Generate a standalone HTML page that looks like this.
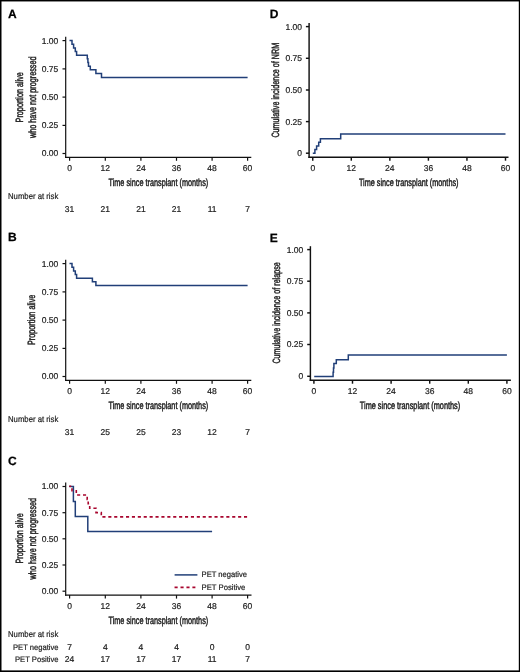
<!DOCTYPE html>
<html><head><meta charset="utf-8"><style>
html,body{margin:0;padding:0;background:#fff;}
svg{display:block;will-change:transform;}
text{font-family:"Liberation Sans",sans-serif;text-rendering:geometricPrecision;}
</style></head><body>
<svg width="520" height="672" viewBox="0 0 520 672">
<rect x="0" y="0" width="520" height="672" fill="#fff"/>
<text x="8.0" y="18.4" font-size="12" text-anchor="start" font-weight="bold" fill="#000" stroke="#000" stroke-width="0.25">A</text>
<line x1="65.7" y1="36.7" x2="65.7" y2="157.9" stroke="#111" stroke-width="1.2"/>
<line x1="65.1" y1="157.3" x2="251.3" y2="157.3" stroke="#111" stroke-width="1.2"/>
<line x1="62.5" y1="40.6" x2="65.7" y2="40.6" stroke="#111" stroke-width="1.2"/>
<text x="58.3" y="43.5" font-size="8.5" text-anchor="end" fill="#1c1c1c" stroke="#1c1c1c" stroke-width="0.2">1.00</text>
<line x1="62.5" y1="68.9" x2="65.7" y2="68.9" stroke="#111" stroke-width="1.2"/>
<text x="58.3" y="71.8" font-size="8.5" text-anchor="end" fill="#1c1c1c" stroke="#1c1c1c" stroke-width="0.2">0.75</text>
<line x1="62.5" y1="97.1" x2="65.7" y2="97.1" stroke="#111" stroke-width="1.2"/>
<text x="58.3" y="100.0" font-size="8.5" text-anchor="end" fill="#1c1c1c" stroke="#1c1c1c" stroke-width="0.2">0.50</text>
<line x1="62.5" y1="125.4" x2="65.7" y2="125.4" stroke="#111" stroke-width="1.2"/>
<text x="58.3" y="128.3" font-size="8.5" text-anchor="end" fill="#1c1c1c" stroke="#1c1c1c" stroke-width="0.2">0.25</text>
<line x1="62.5" y1="153.5" x2="65.7" y2="153.5" stroke="#111" stroke-width="1.2"/>
<text x="58.3" y="156.4" font-size="8.5" text-anchor="end" fill="#1c1c1c" stroke="#1c1c1c" stroke-width="0.2">0.00</text>
<line x1="69.6" y1="157.3" x2="69.6" y2="160.8" stroke="#111" stroke-width="1.2"/>
<text x="69.6" y="171.4" font-size="8.5" text-anchor="middle" fill="#1c1c1c" stroke="#1c1c1c" stroke-width="0.2">0</text>
<line x1="105.3" y1="157.3" x2="105.3" y2="160.8" stroke="#111" stroke-width="1.2"/>
<text x="105.3" y="171.4" font-size="8.5" text-anchor="middle" fill="#1c1c1c" stroke="#1c1c1c" stroke-width="0.2">12</text>
<line x1="140.9" y1="157.3" x2="140.9" y2="160.8" stroke="#111" stroke-width="1.2"/>
<text x="140.9" y="171.4" font-size="8.5" text-anchor="middle" fill="#1c1c1c" stroke="#1c1c1c" stroke-width="0.2">24</text>
<line x1="176.5" y1="157.3" x2="176.5" y2="160.8" stroke="#111" stroke-width="1.2"/>
<text x="176.5" y="171.4" font-size="8.5" text-anchor="middle" fill="#1c1c1c" stroke="#1c1c1c" stroke-width="0.2">36</text>
<line x1="212.1" y1="157.3" x2="212.1" y2="160.8" stroke="#111" stroke-width="1.2"/>
<text x="212.1" y="171.4" font-size="8.5" text-anchor="middle" fill="#1c1c1c" stroke="#1c1c1c" stroke-width="0.2">48</text>
<line x1="247.6" y1="157.3" x2="247.6" y2="160.8" stroke="#111" stroke-width="1.2"/>
<text x="247.6" y="171.4" font-size="8.5" text-anchor="middle" fill="#1c1c1c" stroke="#1c1c1c" stroke-width="0.2">60</text>
<text transform="translate(23.0,122.4) rotate(-90)" font-size="10.5" fill="#1c1c1c" stroke="#1c1c1c" stroke-width="0.45" textLength="50.3" lengthAdjust="spacingAndGlyphs">Proportion alive</text>
<text transform="translate(36.0,138.0) rotate(-90)" font-size="10.5" fill="#1c1c1c" stroke="#1c1c1c" stroke-width="0.45" textLength="81.5" lengthAdjust="spacingAndGlyphs">who have not progressed</text>
<text x="108.5" y="186.0" font-size="10.5" text-anchor="start" fill="#1c1c1c" stroke="#1c1c1c" stroke-width="0.45" textLength="99.7" lengthAdjust="spacingAndGlyphs">Time since transplant (months)</text>
<text x="8" y="199.4" font-size="8.5" text-anchor="start" fill="#1c1c1c" stroke="#1c1c1c" stroke-width="0.2" textLength="50.3" lengthAdjust="spacingAndGlyphs">Number at risk</text>
<text x="69.6" y="211.6" font-size="8.5" text-anchor="middle" fill="#1c1c1c" stroke="#1c1c1c" stroke-width="0.2">31</text>
<text x="105.3" y="211.6" font-size="8.5" text-anchor="middle" fill="#1c1c1c" stroke="#1c1c1c" stroke-width="0.2">21</text>
<text x="140.9" y="211.6" font-size="8.5" text-anchor="middle" fill="#1c1c1c" stroke="#1c1c1c" stroke-width="0.2">21</text>
<text x="176.5" y="211.6" font-size="8.5" text-anchor="middle" fill="#1c1c1c" stroke="#1c1c1c" stroke-width="0.2">21</text>
<text x="212.1" y="211.6" font-size="8.5" text-anchor="middle" fill="#1c1c1c" stroke="#1c1c1c" stroke-width="0.2">11</text>
<text x="247.6" y="211.6" font-size="8.5" text-anchor="middle" fill="#1c1c1c" stroke="#1c1c1c" stroke-width="0.2">7</text>
<path d="M69.5,40.6 H72.0 V44.25 H73.6 V47.9 H75.3 V51.55 H76.6 V55.2 H87.3 V58.85 H87.9 V62.5 H88.5 V66.15 H90.3 V69.8 H95.9 V73.45 H101.5 V77.5 H247.6" fill="none" stroke="#213f78" stroke-width="1.5" stroke-linejoin="miter" stroke-linecap="butt"/>
<text x="8.0" y="241.4" font-size="12" text-anchor="start" font-weight="bold" fill="#000" stroke="#000" stroke-width="0.25">B</text>
<line x1="65.7" y1="259.7" x2="65.7" y2="380.9" stroke="#111" stroke-width="1.2"/>
<line x1="65.1" y1="380.3" x2="251.3" y2="380.3" stroke="#111" stroke-width="1.2"/>
<line x1="62.5" y1="263.6" x2="65.7" y2="263.6" stroke="#111" stroke-width="1.2"/>
<text x="58.3" y="266.5" font-size="8.5" text-anchor="end" fill="#1c1c1c" stroke="#1c1c1c" stroke-width="0.2">1.00</text>
<line x1="62.5" y1="291.9" x2="65.7" y2="291.9" stroke="#111" stroke-width="1.2"/>
<text x="58.3" y="294.8" font-size="8.5" text-anchor="end" fill="#1c1c1c" stroke="#1c1c1c" stroke-width="0.2">0.75</text>
<line x1="62.5" y1="320.1" x2="65.7" y2="320.1" stroke="#111" stroke-width="1.2"/>
<text x="58.3" y="323.0" font-size="8.5" text-anchor="end" fill="#1c1c1c" stroke="#1c1c1c" stroke-width="0.2">0.50</text>
<line x1="62.5" y1="348.4" x2="65.7" y2="348.4" stroke="#111" stroke-width="1.2"/>
<text x="58.3" y="351.3" font-size="8.5" text-anchor="end" fill="#1c1c1c" stroke="#1c1c1c" stroke-width="0.2">0.25</text>
<line x1="62.5" y1="376.5" x2="65.7" y2="376.5" stroke="#111" stroke-width="1.2"/>
<text x="58.3" y="379.4" font-size="8.5" text-anchor="end" fill="#1c1c1c" stroke="#1c1c1c" stroke-width="0.2">0.00</text>
<line x1="69.6" y1="380.3" x2="69.6" y2="383.8" stroke="#111" stroke-width="1.2"/>
<text x="69.6" y="394.4" font-size="8.5" text-anchor="middle" fill="#1c1c1c" stroke="#1c1c1c" stroke-width="0.2">0</text>
<line x1="105.3" y1="380.3" x2="105.3" y2="383.8" stroke="#111" stroke-width="1.2"/>
<text x="105.3" y="394.4" font-size="8.5" text-anchor="middle" fill="#1c1c1c" stroke="#1c1c1c" stroke-width="0.2">12</text>
<line x1="140.9" y1="380.3" x2="140.9" y2="383.8" stroke="#111" stroke-width="1.2"/>
<text x="140.9" y="394.4" font-size="8.5" text-anchor="middle" fill="#1c1c1c" stroke="#1c1c1c" stroke-width="0.2">24</text>
<line x1="176.5" y1="380.3" x2="176.5" y2="383.8" stroke="#111" stroke-width="1.2"/>
<text x="176.5" y="394.4" font-size="8.5" text-anchor="middle" fill="#1c1c1c" stroke="#1c1c1c" stroke-width="0.2">36</text>
<line x1="212.1" y1="380.3" x2="212.1" y2="383.8" stroke="#111" stroke-width="1.2"/>
<text x="212.1" y="394.4" font-size="8.5" text-anchor="middle" fill="#1c1c1c" stroke="#1c1c1c" stroke-width="0.2">48</text>
<line x1="247.6" y1="380.3" x2="247.6" y2="383.8" stroke="#111" stroke-width="1.2"/>
<text x="247.6" y="394.4" font-size="8.5" text-anchor="middle" fill="#1c1c1c" stroke="#1c1c1c" stroke-width="0.2">60</text>
<text transform="translate(35.2,345.0) rotate(-90)" font-size="10.5" fill="#1c1c1c" stroke="#1c1c1c" stroke-width="0.45" textLength="50.3" lengthAdjust="spacingAndGlyphs">Proportion alive</text>
<text x="108.5" y="409.0" font-size="10.5" text-anchor="start" fill="#1c1c1c" stroke="#1c1c1c" stroke-width="0.45" textLength="99.7" lengthAdjust="spacingAndGlyphs">Time since transplant (months)</text>
<text x="8" y="422.4" font-size="8.5" text-anchor="start" fill="#1c1c1c" stroke="#1c1c1c" stroke-width="0.2" textLength="50.3" lengthAdjust="spacingAndGlyphs">Number at risk</text>
<text x="69.6" y="434.6" font-size="8.5" text-anchor="middle" fill="#1c1c1c" stroke="#1c1c1c" stroke-width="0.2">31</text>
<text x="105.3" y="434.6" font-size="8.5" text-anchor="middle" fill="#1c1c1c" stroke="#1c1c1c" stroke-width="0.2">25</text>
<text x="140.9" y="434.6" font-size="8.5" text-anchor="middle" fill="#1c1c1c" stroke="#1c1c1c" stroke-width="0.2">25</text>
<text x="176.5" y="434.6" font-size="8.5" text-anchor="middle" fill="#1c1c1c" stroke="#1c1c1c" stroke-width="0.2">23</text>
<text x="212.1" y="434.6" font-size="8.5" text-anchor="middle" fill="#1c1c1c" stroke="#1c1c1c" stroke-width="0.2">12</text>
<text x="247.6" y="434.6" font-size="8.5" text-anchor="middle" fill="#1c1c1c" stroke="#1c1c1c" stroke-width="0.2">7</text>
<path d="M69.5,263.6 H72.0 V267.25 H73.6 V270.9 H75.3 V274.55 H76.6 V278.2 H92.4 V281.85 H95.9 V285.5 H247.6" fill="none" stroke="#213f78" stroke-width="1.5" stroke-linejoin="miter" stroke-linecap="butt"/>
<text x="8.0" y="465.3" font-size="12" text-anchor="start" font-weight="bold" fill="#000" stroke="#000" stroke-width="0.25">C</text>
<line x1="65.7" y1="482.6" x2="65.7" y2="595.7" stroke="#111" stroke-width="1.2"/>
<line x1="65.1" y1="595.1" x2="251.5" y2="595.1" stroke="#111" stroke-width="1.2"/>
<line x1="62.5" y1="486.5" x2="65.7" y2="486.5" stroke="#111" stroke-width="1.2"/>
<text x="58.3" y="489.4" font-size="8.5" text-anchor="end" fill="#1c1c1c" stroke="#1c1c1c" stroke-width="0.2">1.00</text>
<line x1="62.5" y1="512.7" x2="65.7" y2="512.7" stroke="#111" stroke-width="1.2"/>
<text x="58.3" y="515.6" font-size="8.5" text-anchor="end" fill="#1c1c1c" stroke="#1c1c1c" stroke-width="0.2">0.75</text>
<line x1="62.5" y1="538.8" x2="65.7" y2="538.8" stroke="#111" stroke-width="1.2"/>
<text x="58.3" y="541.7" font-size="8.5" text-anchor="end" fill="#1c1c1c" stroke="#1c1c1c" stroke-width="0.2">0.50</text>
<line x1="62.5" y1="565.0" x2="65.7" y2="565.0" stroke="#111" stroke-width="1.2"/>
<text x="58.3" y="567.9" font-size="8.5" text-anchor="end" fill="#1c1c1c" stroke="#1c1c1c" stroke-width="0.2">0.25</text>
<line x1="62.5" y1="591.2" x2="65.7" y2="591.2" stroke="#111" stroke-width="1.2"/>
<text x="58.3" y="594.1" font-size="8.5" text-anchor="end" fill="#1c1c1c" stroke="#1c1c1c" stroke-width="0.2">0.00</text>
<line x1="69.6" y1="595.1" x2="69.6" y2="598.6" stroke="#111" stroke-width="1.2"/>
<text x="69.6" y="609.4" font-size="8.5" text-anchor="middle" fill="#1c1c1c" stroke="#1c1c1c" stroke-width="0.2">0</text>
<line x1="105.3" y1="595.1" x2="105.3" y2="598.6" stroke="#111" stroke-width="1.2"/>
<text x="105.3" y="609.4" font-size="8.5" text-anchor="middle" fill="#1c1c1c" stroke="#1c1c1c" stroke-width="0.2">12</text>
<line x1="140.9" y1="595.1" x2="140.9" y2="598.6" stroke="#111" stroke-width="1.2"/>
<text x="140.9" y="609.4" font-size="8.5" text-anchor="middle" fill="#1c1c1c" stroke="#1c1c1c" stroke-width="0.2">24</text>
<line x1="176.5" y1="595.1" x2="176.5" y2="598.6" stroke="#111" stroke-width="1.2"/>
<text x="176.5" y="609.4" font-size="8.5" text-anchor="middle" fill="#1c1c1c" stroke="#1c1c1c" stroke-width="0.2">36</text>
<line x1="212.1" y1="595.1" x2="212.1" y2="598.6" stroke="#111" stroke-width="1.2"/>
<text x="212.1" y="609.4" font-size="8.5" text-anchor="middle" fill="#1c1c1c" stroke="#1c1c1c" stroke-width="0.2">48</text>
<line x1="247.6" y1="595.1" x2="247.6" y2="598.6" stroke="#111" stroke-width="1.2"/>
<text x="247.6" y="609.4" font-size="8.5" text-anchor="middle" fill="#1c1c1c" stroke="#1c1c1c" stroke-width="0.2">60</text>
<text transform="translate(23.0,563.6) rotate(-90)" font-size="10.5" fill="#1c1c1c" stroke="#1c1c1c" stroke-width="0.45" textLength="50.3" lengthAdjust="spacingAndGlyphs">Proportion alive</text>
<text transform="translate(36.0,579.4) rotate(-90)" font-size="10.5" fill="#1c1c1c" stroke="#1c1c1c" stroke-width="0.45" textLength="81.5" lengthAdjust="spacingAndGlyphs">who have not progressed</text>
<text x="108.5" y="623.6" font-size="10.5" text-anchor="start" fill="#1c1c1c" stroke="#1c1c1c" stroke-width="0.45" textLength="99.7" lengthAdjust="spacingAndGlyphs">Time since transplant (months)</text>
<text x="8" y="636.9" font-size="8.5" text-anchor="start" fill="#1c1c1c" stroke="#1c1c1c" stroke-width="0.2" textLength="50.3" lengthAdjust="spacingAndGlyphs">Number at risk</text>
<text x="13.0" y="649.5" font-size="8" text-anchor="start" fill="#1c1c1c" stroke="#1c1c1c" stroke-width="0.2" textLength="45.5" lengthAdjust="spacingAndGlyphs">PET negative</text>
<text x="15.0" y="661.9" font-size="8" text-anchor="start" fill="#1c1c1c" stroke="#1c1c1c" stroke-width="0.2" textLength="43.5" lengthAdjust="spacingAndGlyphs">PET Positive</text>
<text x="69.6" y="649.5" font-size="8.5" text-anchor="middle" fill="#1c1c1c" stroke="#1c1c1c" stroke-width="0.2">7</text>
<text x="105.3" y="649.5" font-size="8.5" text-anchor="middle" fill="#1c1c1c" stroke="#1c1c1c" stroke-width="0.2">4</text>
<text x="140.9" y="649.5" font-size="8.5" text-anchor="middle" fill="#1c1c1c" stroke="#1c1c1c" stroke-width="0.2">4</text>
<text x="176.5" y="649.5" font-size="8.5" text-anchor="middle" fill="#1c1c1c" stroke="#1c1c1c" stroke-width="0.2">4</text>
<text x="212.1" y="649.5" font-size="8.5" text-anchor="middle" fill="#1c1c1c" stroke="#1c1c1c" stroke-width="0.2">0</text>
<text x="247.6" y="649.5" font-size="8.5" text-anchor="middle" fill="#1c1c1c" stroke="#1c1c1c" stroke-width="0.2">0</text>
<text x="69.6" y="661.9" font-size="8.5" text-anchor="middle" fill="#1c1c1c" stroke="#1c1c1c" stroke-width="0.2">24</text>
<text x="105.3" y="661.9" font-size="8.5" text-anchor="middle" fill="#1c1c1c" stroke="#1c1c1c" stroke-width="0.2">17</text>
<text x="140.9" y="661.9" font-size="8.5" text-anchor="middle" fill="#1c1c1c" stroke="#1c1c1c" stroke-width="0.2">17</text>
<text x="176.5" y="661.9" font-size="8.5" text-anchor="middle" fill="#1c1c1c" stroke="#1c1c1c" stroke-width="0.2">17</text>
<text x="212.1" y="661.9" font-size="8.5" text-anchor="middle" fill="#1c1c1c" stroke="#1c1c1c" stroke-width="0.2">11</text>
<text x="247.6" y="661.9" font-size="8.5" text-anchor="middle" fill="#1c1c1c" stroke="#1c1c1c" stroke-width="0.2">7</text>
<path d="M69.2,486.5 H73.4 V501.5 H75.3 V516.4 H87.8 V531.5 H212.1" fill="none" stroke="#213f78" stroke-width="1.5" stroke-linejoin="miter" stroke-linecap="butt"/>
<path d="M69.2,486.3 H72 V490.7 H76.3 V495 H87.2 V499.4 H88.2 V503.8 H89.7 V508.2 H96 V512.6 H101.3 V516.9 H247.6" fill="none" stroke="#a8062e" stroke-width="1.6" stroke-linejoin="miter" stroke-linecap="butt" stroke-dasharray="3.1 2.8" stroke-dashoffset="1.1"/>
<line x1="174.6" y1="574.9" x2="197.4" y2="574.9" stroke="#213f78" stroke-width="1.5"/>
<line x1="174.55" y1="587.4" x2="195.4" y2="587.4" stroke="#a8062e" stroke-width="1.6" stroke-dasharray="3.1 2.85"/>
<text x="201.6" y="577.4" font-size="8" text-anchor="start" fill="#1c1c1c" stroke="#1c1c1c" stroke-width="0.2" textLength="45.4" lengthAdjust="spacingAndGlyphs">PET negative</text>
<text x="201.6" y="589.8" font-size="8" text-anchor="start" fill="#1c1c1c" stroke="#1c1c1c" stroke-width="0.2" textLength="43.8" lengthAdjust="spacingAndGlyphs">PET Positive</text>
<text x="269.8" y="18.4" font-size="12" text-anchor="start" font-weight="bold" fill="#000" stroke="#000" stroke-width="0.25">D</text>
<line x1="309.1" y1="23.0" x2="309.1" y2="157.92" stroke="#111" stroke-width="1.45"/>
<line x1="308.38" y1="157.2" x2="508.5" y2="157.2" stroke="#111" stroke-width="1.45"/>
<line x1="305.9" y1="26.6" x2="309.1" y2="26.6" stroke="#111" stroke-width="1.45"/>
<text x="302.0" y="29.5" font-size="8.5" text-anchor="end" fill="#1c1c1c" stroke="#1c1c1c" stroke-width="0.2">1.00</text>
<line x1="305.9" y1="58.3" x2="309.1" y2="58.3" stroke="#111" stroke-width="1.45"/>
<text x="302.0" y="61.2" font-size="8.5" text-anchor="end" fill="#1c1c1c" stroke="#1c1c1c" stroke-width="0.2">0.75</text>
<line x1="305.9" y1="90.0" x2="309.1" y2="90.0" stroke="#111" stroke-width="1.45"/>
<text x="302.0" y="92.9" font-size="8.5" text-anchor="end" fill="#1c1c1c" stroke="#1c1c1c" stroke-width="0.2">0.50</text>
<line x1="305.9" y1="121.6" x2="309.1" y2="121.6" stroke="#111" stroke-width="1.45"/>
<text x="302.0" y="124.5" font-size="8.5" text-anchor="end" fill="#1c1c1c" stroke="#1c1c1c" stroke-width="0.2">0.25</text>
<line x1="305.9" y1="153.2" x2="309.1" y2="153.2" stroke="#111" stroke-width="1.45"/>
<text x="302.0" y="156.1" font-size="8.5" text-anchor="end" fill="#1c1c1c" stroke="#1c1c1c" stroke-width="0.2">0</text>
<line x1="312.75" y1="157.2" x2="312.75" y2="160.7" stroke="#111" stroke-width="1.45"/>
<text x="312.75" y="171.4" font-size="8.5" text-anchor="middle" fill="#1c1c1c" stroke="#1c1c1c" stroke-width="0.2">0</text>
<line x1="351.3" y1="157.2" x2="351.3" y2="160.7" stroke="#111" stroke-width="1.45"/>
<text x="351.3" y="171.4" font-size="8.5" text-anchor="middle" fill="#1c1c1c" stroke="#1c1c1c" stroke-width="0.2">12</text>
<line x1="389.85" y1="157.2" x2="389.85" y2="160.7" stroke="#111" stroke-width="1.45"/>
<text x="389.85" y="171.4" font-size="8.5" text-anchor="middle" fill="#1c1c1c" stroke="#1c1c1c" stroke-width="0.2">24</text>
<line x1="428.4" y1="157.2" x2="428.4" y2="160.7" stroke="#111" stroke-width="1.45"/>
<text x="428.4" y="171.4" font-size="8.5" text-anchor="middle" fill="#1c1c1c" stroke="#1c1c1c" stroke-width="0.2">36</text>
<line x1="466.95" y1="157.2" x2="466.95" y2="160.7" stroke="#111" stroke-width="1.45"/>
<text x="466.95" y="171.4" font-size="8.5" text-anchor="middle" fill="#1c1c1c" stroke="#1c1c1c" stroke-width="0.2">48</text>
<line x1="505.5" y1="157.2" x2="505.5" y2="160.7" stroke="#111" stroke-width="1.45"/>
<text x="505.5" y="171.4" font-size="8.5" text-anchor="middle" fill="#1c1c1c" stroke="#1c1c1c" stroke-width="0.2">60</text>
<text transform="translate(278.6,137.6) rotate(-90)" font-size="10.5" fill="#1c1c1c" stroke="#1c1c1c" stroke-width="0.45" textLength="94.8" lengthAdjust="spacingAndGlyphs">Cumulative incidence of NRM</text>
<text x="358.9" y="186.1" font-size="10.5" text-anchor="start" fill="#1c1c1c" stroke="#1c1c1c" stroke-width="0.45" textLength="99.6" lengthAdjust="spacingAndGlyphs">Time since transplant (months)</text>
<path d="M312.8,153.2 H314.9 V149.5 H316.6 V146.1 H318.7 V142.3 H320.4 V138.7 H340.7 V133.9 H505.5" fill="none" stroke="#213f78" stroke-width="1.5" stroke-linejoin="miter" stroke-linecap="butt"/>
<text x="269.8" y="241.6" font-size="12" text-anchor="start" font-weight="bold" fill="#000" stroke="#000" stroke-width="0.25">E</text>
<line x1="310.4" y1="246.2" x2="310.4" y2="380.93" stroke="#111" stroke-width="1.45"/>
<line x1="309.67" y1="380.2" x2="510.9" y2="380.2" stroke="#111" stroke-width="1.45"/>
<line x1="307.2" y1="249.6" x2="310.4" y2="249.6" stroke="#111" stroke-width="1.45"/>
<text x="303.3" y="252.5" font-size="8.5" text-anchor="end" fill="#1c1c1c" stroke="#1c1c1c" stroke-width="0.2">1.00</text>
<line x1="307.2" y1="281.2" x2="310.4" y2="281.2" stroke="#111" stroke-width="1.45"/>
<text x="303.3" y="284.1" font-size="8.5" text-anchor="end" fill="#1c1c1c" stroke="#1c1c1c" stroke-width="0.2">0.75</text>
<line x1="307.2" y1="312.9" x2="310.4" y2="312.9" stroke="#111" stroke-width="1.45"/>
<text x="303.3" y="315.8" font-size="8.5" text-anchor="end" fill="#1c1c1c" stroke="#1c1c1c" stroke-width="0.2">0.50</text>
<line x1="307.2" y1="344.5" x2="310.4" y2="344.5" stroke="#111" stroke-width="1.45"/>
<text x="303.3" y="347.4" font-size="8.5" text-anchor="end" fill="#1c1c1c" stroke="#1c1c1c" stroke-width="0.2">0.25</text>
<line x1="307.2" y1="376.3" x2="310.4" y2="376.3" stroke="#111" stroke-width="1.45"/>
<text x="303.3" y="379.2" font-size="8.5" text-anchor="end" fill="#1c1c1c" stroke="#1c1c1c" stroke-width="0.2">0</text>
<line x1="313.9" y1="380.2" x2="313.9" y2="383.7" stroke="#111" stroke-width="1.45"/>
<text x="313.9" y="394.4" font-size="8.5" text-anchor="middle" fill="#1c1c1c" stroke="#1c1c1c" stroke-width="0.2">0</text>
<line x1="352.5" y1="380.2" x2="352.5" y2="383.7" stroke="#111" stroke-width="1.45"/>
<text x="352.5" y="394.4" font-size="8.5" text-anchor="middle" fill="#1c1c1c" stroke="#1c1c1c" stroke-width="0.2">12</text>
<line x1="391.1" y1="380.2" x2="391.1" y2="383.7" stroke="#111" stroke-width="1.45"/>
<text x="391.1" y="394.4" font-size="8.5" text-anchor="middle" fill="#1c1c1c" stroke="#1c1c1c" stroke-width="0.2">24</text>
<line x1="429.7" y1="380.2" x2="429.7" y2="383.7" stroke="#111" stroke-width="1.45"/>
<text x="429.7" y="394.4" font-size="8.5" text-anchor="middle" fill="#1c1c1c" stroke="#1c1c1c" stroke-width="0.2">36</text>
<line x1="468.3" y1="380.2" x2="468.3" y2="383.7" stroke="#111" stroke-width="1.45"/>
<text x="468.3" y="394.4" font-size="8.5" text-anchor="middle" fill="#1c1c1c" stroke="#1c1c1c" stroke-width="0.2">48</text>
<line x1="506.9" y1="380.2" x2="506.9" y2="383.7" stroke="#111" stroke-width="1.45"/>
<text x="506.9" y="394.4" font-size="8.5" text-anchor="middle" fill="#1c1c1c" stroke="#1c1c1c" stroke-width="0.2">60</text>
<text transform="translate(279.5,363.6) rotate(-90)" font-size="10.5" fill="#1c1c1c" stroke="#1c1c1c" stroke-width="0.45" textLength="101.3" lengthAdjust="spacingAndGlyphs">Cumulative incidence of relapse</text>
<text x="359.8" y="408.8" font-size="10.5" text-anchor="start" fill="#1c1c1c" stroke="#1c1c1c" stroke-width="0.45" textLength="100.4" lengthAdjust="spacingAndGlyphs">Time since transplant (months)</text>
<path d="M314.2,376.4 H333.1 V372.2 H333.5 V368 H333.9 V363.6 H336.3 V359.7 H348.3 V355.0 H506.9" fill="none" stroke="#213f78" stroke-width="1.5" stroke-linejoin="miter" stroke-linecap="butt"/>
<rect x="0" y="0" width="520" height="1.45" fill="#000"/>
<rect x="0" y="0" width="1.5" height="672" fill="#000"/>
<rect x="518.8" y="0" width="1.2" height="672" fill="#000"/>
<rect x="0" y="670.4" width="520" height="1.6" fill="#000"/>
</svg>
</body></html>
